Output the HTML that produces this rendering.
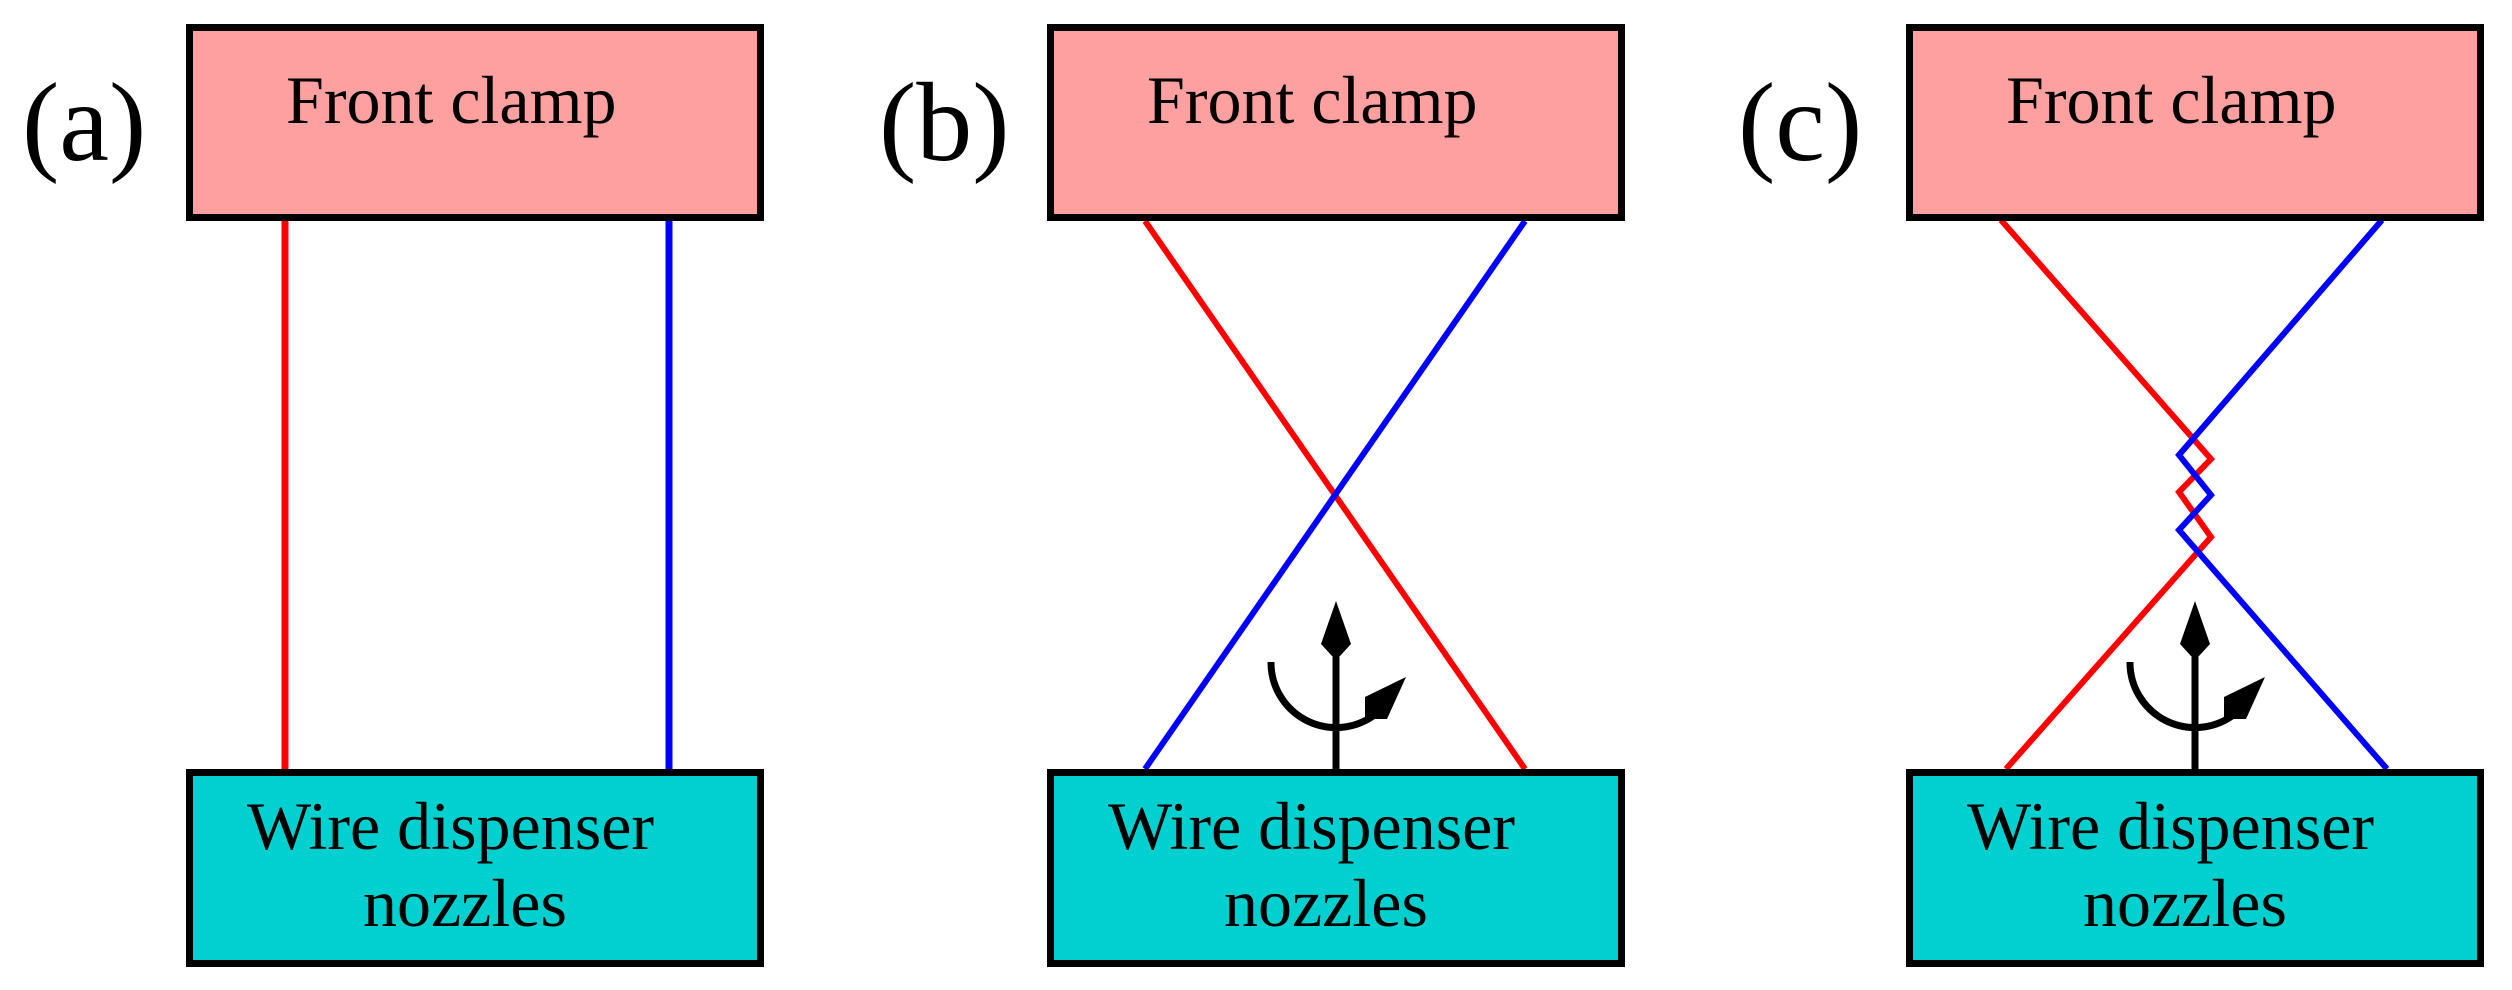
<!DOCTYPE html>
<html><head><meta charset="utf-8"><style>
html,body{margin:0;padding:0;background:#fff;}
svg{display:block}
text{font-family:"Liberation Serif",serif;fill:#000}
</style></head><body>
<svg width="2512" height="990" viewBox="0 0 2512 990" xmlns="http://www.w3.org/2000/svg">
<defs>
<g id="boxes">
  <rect x="189.5" y="27.5" width="571" height="190" fill="#ffa0a0" stroke="#000" stroke-width="7"/>
  <text x="286" y="123" font-size="68">Front clamp</text>
  <rect x="189.5" y="772.5" width="571" height="191" fill="#00d0d0" stroke="#000" stroke-width="7"/>
  <text x="247" y="849" font-size="68">Wire dispenser</text>
  <text x="363" y="926" font-size="68">nozzles</text>
</g>
<g id="rot">
  <line x1="475" y1="650" x2="475" y2="770" stroke="#000" stroke-width="7"/>
  <polygon points="475,601 490,644 479,656 471,656 460,644" fill="#000"/>
  <path d="M410,662 A65,65 0 0 0 512,716" fill="none" stroke="#000" stroke-width="7"/>
  <polygon points="504,697 545,677 526,719 504,719" fill="#000"/>
</g>
</defs>

<!-- (a) -->
<text x="22" y="160" font-size="112">(a)</text>
<line x1="285" y1="221" x2="285" y2="769" stroke="#f00" stroke-width="7"/>
<line x1="669" y1="221" x2="669" y2="769" stroke="#00f" stroke-width="7"/>
<use href="#boxes"/>

<!-- (b) -->
<g transform="translate(861,0)">
<text x="18" y="160" font-size="112">(b)</text>
<line x1="284" y1="221" x2="664" y2="769" stroke="#f00" stroke-width="6"/>
<line x1="664" y1="221" x2="284" y2="769" stroke="#00f" stroke-width="6"/>
<use href="#rot"/>
<use href="#boxes"/>
</g>

<!-- (c) -->
<g transform="translate(1720,0)">
<text x="18" y="160" font-size="112">(c)</text>
<polyline points="281,220 491,459 459,492 491,537 286,769" fill="none" stroke="#f00" stroke-width="6" stroke-linejoin="miter"/>
<polyline points="662,220 459,455 491,495 459,530 667,769" fill="none" stroke="#00f" stroke-width="6" stroke-linejoin="miter"/>
<use href="#rot"/>
<use href="#boxes"/>
</g>
</svg>
</body></html>
